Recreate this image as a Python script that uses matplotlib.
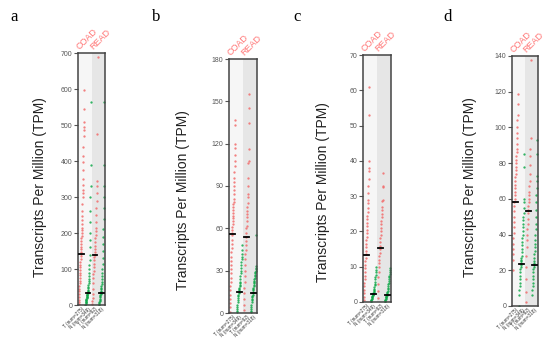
import numpy as np
import matplotlib.pyplot as plt

plt.rcParams['font.family'] = ['Liberation Sans', 'DejaVu Sans']

groups = ['COAD', 'READ']
tick_labels = ['T (num=275)', 'N (num=349)', 'T (num=92)', 'N (num=318)']
panel_letters = ['a', 'b', 'c', 'd']
y_max = [700, 180, 70, 140]
y_step = [100, 30, 10, 20]

# sorted values (T = tumour, N = normal)
a_coad_t = [2, 8, 15, 22, 30, 38, 45, 52, 60, 68, 75, 82, 90, 98, 105, 112, 120, 128, 135, 141,
            148, 155, 162, 170, 177, 185, 192, 200, 208, 215, 225, 235, 248, 262, 280, 300, 310,
            320, 332, 350, 374, 397, 415, 439, 470, 485, 494, 508, 545, 596]
a_coad_n = [1, 3, 5, 7, 9, 11, 13, 15, 17, 19, 21, 23, 25, 27, 29, 31, 33, 35, 37, 40, 43, 46, 50,
            55, 60, 66, 73, 80, 90, 100, 110, 125, 140, 160, 180, 200, 230, 260, 300, 330, 390, 565]
a_read_t = [3, 10, 20, 30, 45, 60, 75, 85, 95, 105, 115, 125, 132, 139, 146, 155, 165, 175, 185,
            195, 205, 215, 230, 250, 270, 290, 310, 330, 345, 475, 690]
a_read_n = [1, 3, 6, 9, 12, 15, 18, 21, 24, 27, 30, 33, 36, 40, 44, 48, 53, 58, 65, 72, 80, 90,
            100, 115, 130, 150, 170, 190, 210, 240, 270, 300, 330, 390, 565]

b_coad_t = [1, 4, 7, 10, 13, 16, 19, 22, 25, 28, 31, 34, 37, 40, 43, 46, 49, 52, 55, 57, 59, 61,
            63, 65, 67, 69, 71, 73, 75, 77, 79, 81, 84, 87, 90, 93, 96, 100, 104, 108, 112, 117,
            120, 133, 137]
b_coad_n = [0.5, 1.5, 3, 4.5, 6, 7.5, 9, 10.5, 12, 13, 14, 15, 16, 17, 18, 19, 20, 21, 22, 24, 26,
            28, 30, 32, 34, 36, 38, 40, 42, 45, 48]
b_read_t = [2, 6, 10, 14, 18, 22, 26, 30, 34, 38, 42, 45, 48, 51, 54, 57, 60, 62, 65, 68, 70, 72,
            75, 78, 82, 84, 90, 96, 106, 108, 116, 135, 145, 155]
b_read_n = [0.5, 1.5, 3, 4.5, 6, 7.5, 9, 10, 11, 12, 13, 14, 15, 16, 17, 18, 19, 20, 21, 22, 23,
            24, 25, 26, 27, 28, 29, 30, 31, 32, 33, 55]

c_coad_t = [0.5, 1.5, 2.5, 3.5, 4.5, 5.5, 6.5, 7.5, 8.5, 9.5, 10.5, 11.5, 12.5, 13.5, 14.5, 15.5,
            16.5, 17.5, 18.5, 19.5, 20.5, 21.5, 22.5, 23.5, 24.5, 25.5, 26.5, 28, 29, 31, 33, 35,
            37, 38, 40, 53, 61]
c_coad_n = [0.1, 0.3, 0.5, 0.7, 0.9, 1.1, 1.3, 1.5, 1.7, 1.9, 2.1, 2.3, 2.5, 2.8, 3.1, 3.4, 3.8,
            4.2, 4.7, 5.2, 5.8, 6.4, 7.0, 7.7, 8.4, 9.2, 10.0]
c_read_t = [1, 3, 5, 7, 8.5, 10, 11, 12, 13, 14, 15, 16, 17, 18, 19, 20, 21, 22, 23, 24, 25, 26,
            27, 28.5, 29, 32.5, 33, 36.5]
c_read_n = [0.1, 0.3, 0.5, 0.7, 0.9, 1.1, 1.3, 1.5, 1.7, 1.9, 2.1, 2.3, 2.6, 2.9, 3.2, 3.6, 4.0,
            4.5, 5.0, 5.5, 6.0, 6.5, 7.0, 7.5, 8.0, 8.5, 9.0, 9.5]

d_coad_t = [20, 26, 29, 32, 35, 38, 41, 44, 47, 50, 53, 56, 58, 60, 62, 64, 66, 68, 70, 72, 74,
            76, 78, 80, 82, 84, 86, 88, 91, 94, 97, 100, 104, 107, 113, 119]
d_coad_n = [0, 6, 9, 11, 13, 15, 17, 19, 21, 22, 23, 24, 25, 26, 27, 28, 30, 32, 34, 36, 38, 40,
            42, 44, 46, 48, 50, 52, 55, 58, 60, 78, 85]
d_read_t = [2, 8, 15, 22, 28, 33, 37, 40, 43, 46, 49, 52, 54, 56, 58, 60, 62, 64, 67, 70, 74, 79,
            84, 88, 94, 138]
d_read_n = [6, 9, 11, 13, 15, 17, 19, 21, 22, 23, 24, 25, 27, 29, 31, 33, 35, 37, 40, 43, 46, 50,
            54, 58, 62, 66, 70, 73, 85, 93]

# medians (black bars), order: COAD T, COAD N, READ T, READ N
a_medians = [141, 33, 139, 33]
b_medians = [56, 15, 54, 14]
c_medians = [13.4, 2.2, 15.2, 2.1]
d_medians = [58.4, 23.5, 53, 23]

panels = [
    [a_coad_t, a_coad_n, a_read_t, a_read_n],
    [b_coad_t, b_coad_n, b_read_t, b_read_n],
    [c_coad_t, c_coad_n, c_read_t, c_read_n],
    [d_coad_t, d_coad_n, d_read_t, d_read_n],
]
medians = [a_medians, b_medians, c_medians, d_medians]

W, H = 550, 339
# axes boxes in pixels: left, right, top, bottom
boxes = [(78, 105, 53, 305), (229, 257, 59, 313), (363, 391, 55, 302), (512, 538, 56, 306)]
letter_x = [10, 152, 293, 443]
ylabel_pos = [(40, 187), (183, 200), (323, 192), (470, 187)]

red = '#f26b6b'
green = '#10a84a'

fig = plt.figure(figsize=(W / 100, H / 100), dpi=100)

for k in range(4):
    l, r, t, b = boxes[k]
    ax = fig.add_axes([l / W, 1 - b / H, (r - l) / W, (b - t) / H])
    ax.axvspan(0, 2, color='#f6f6f6', zorder=0, lw=0)
    ax.axvspan(2, 4, color='#e6e6e6', zorder=0, lw=0)

    for i, vals in enumerate(panels[k]):
        vals = np.sort(vals)
        n = len(vals)
        xs = i + 0.1 + 0.8 * np.arange(n) / (n - 1)
        col = red if i % 2 == 0 else green
        ax.scatter(xs, vals, s=2.8, color=col, alpha=0.85, lw=0, zorder=2)
        ax.plot([i + 0.15, i + 0.85], [medians[k][i]] * 2, color='black', lw=1.3, zorder=3)

    ax.set_xlim(0, 4)
    ax.set_ylim(0, y_max[k])
    ax.set_yticks(np.arange(0, y_max[k] + 1, y_step[k]))
    ax.set_xticks([0.5, 1.5, 2.5, 3.5])
    ax.set_xticklabels(tick_labels, rotation=45, ha='right', rotation_mode='anchor',
                       fontsize=3.4, color='#333333')
    ax.tick_params(axis='y', labelsize=5, colors='#555555', length=3, width=0.8, pad=1)
    ax.tick_params(axis='x', length=0, pad=1)
    for sp in ax.spines.values():
        sp.set_color('#444444')
        sp.set_linewidth(1.1)

    for g, name in enumerate(groups):
        ax.text(2 * g + 0.4, y_max[k] * 1.005, name, rotation=45, ha='left', va='bottom',
                rotation_mode='anchor', fontsize=6.5, color='#ff7575')

    fig.text(letter_x[k] / W, 1 - 17 / H, panel_letters[k], fontsize=12,
             family='Liberation Serif', va='center', ha='left')
    fig.text(ylabel_pos[k][0] / W, 1 - ylabel_pos[k][1] / H, 'Transcripts Per Million (TPM)',
             rotation=90, fontsize=10, ha='center', va='center', color='#222222')

fig.savefig('out.png', dpi=100)
